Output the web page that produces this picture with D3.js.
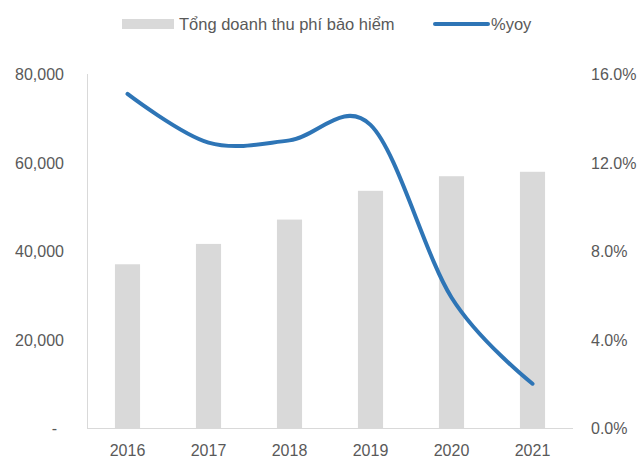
<!DOCTYPE html>
<html>
<head>
<meta charset="utf-8">
<script src="https://cdn.jsdelivr.net/npm/d3@7"></script>
<style>
  body { margin: 0; background: #fff; }
  text { font-family: "Liberation Sans", "DejaVu Sans", sans-serif; fill: #595959; }
</style>
</head>
<body>
<svg width="637" height="460"></svg>
<script>
var years = ["2016", "2017", "2018", "2019", "2020", "2021"];
var revenue = [37000, 41600, 47100, 53600, 56900, 57900];
var yoy = [15.1, 12.9, 13.0, 13.7, 5.9, 2.0];
var leftTicks = [0, 20000, 40000, 60000, 80000];
var rightTicks = [0, 4, 8, 12, 16];

var svg = d3.select("svg"),
  plotLeft = 87, plotRight = 573, plotTop = 74, plotBottom = 428;

var x = d3.scaleBand().domain(years).range([plotLeft, plotRight]).paddingInner(0.69).paddingOuter(0.345);
var xc = function (d) { return x(d) + x.bandwidth() / 2; };
var y = d3.scaleLinear().domain([0, 80000]).range([plotBottom, plotTop]);
var y2 = d3.scaleLinear().domain([0, 16]).range([plotBottom, plotTop]);

// bars
svg.append("g")
  .selectAll("rect")
  .data(years)
  .enter().append("rect")
  .attr("x", function (d) { return x(d); })
  .attr("width", x.bandwidth())
  .attr("y", function (d, i) { return y(revenue[i]); })
  .attr("height", function (d, i) { return plotBottom - y(revenue[i]); })
  .attr("fill", "#d9d9d9");

// axis lines
svg.append("line").attr("x1", plotLeft + 0.5).attr("x2", plotLeft + 0.5).attr("y1", plotTop).attr("y2", plotBottom)
  .attr("stroke", "#d9d9d9").attr("stroke-width", 1);
svg.append("line").attr("x1", plotLeft).attr("x2", plotRight).attr("y1", plotBottom + 0.5).attr("y2", plotBottom + 0.5)
  .attr("stroke", "#d9d9d9").attr("stroke-width", 1);

// left axis labels
var fmt = d3.format(",");
svg.append("g")
  .selectAll("text")
  .data(leftTicks)
  .enter().append("text")
  .attr("x", function (d) { return d === 0 ? 57 : 64; })
  .attr("y", function (d) { return y(d) + 6; })
  .attr("text-anchor", "end")
  .style("font-size", "16px")
  .text(function (d) { return d === 0 ? "-" : fmt(d); });

// right axis labels
svg.append("g")
  .selectAll("text")
  .data(rightTicks)
  .enter().append("text")
  .attr("x", 591)
  .attr("y", function (d) { return y2(d) + 6; })
  .style("font-size", "16px")
  .text(function (d) { return d.toFixed(1) + "%"; });

// x labels
svg.append("g")
  .selectAll("text")
  .data(years)
  .enter().append("text")
  .attr("x", xc)
  .attr("y", 456)
  .attr("text-anchor", "middle")
  .style("font-size", "16px")
  .text(function (d) { return d; });

// yoy line
var line = d3.line()
  .x(function (d, i) { return xc(years[i]); })
  .y(function (d) { return y2(d); })
  .curve(d3.curveCatmullRom.alpha(0));

svg.append("path")
  .datum(yoy)
  .attr("d", line)
  .attr("fill", "none")
  .attr("stroke", "#2e75b6")
  .attr("stroke-width", 4)
  .attr("stroke-linecap", "round");

// legend
svg.append("rect").attr("x", 122).attr("y", 19).attr("width", 52).attr("height", 10).attr("fill", "#d9d9d9");
svg.append("text").attr("x", 179).attr("y", 30).style("font-size", "16.5px").text("Tổng doanh thu phí bảo hiểm");
svg.append("line").attr("x1", 435).attr("x2", 488).attr("y1", 24).attr("y2", 24)
  .attr("stroke", "#2e75b6").attr("stroke-width", 4).attr("stroke-linecap", "round");
svg.append("text").attr("x", 491).attr("y", 30).style("font-size", "16.5px").text("%yoy");
</script>
</body>
</html>
